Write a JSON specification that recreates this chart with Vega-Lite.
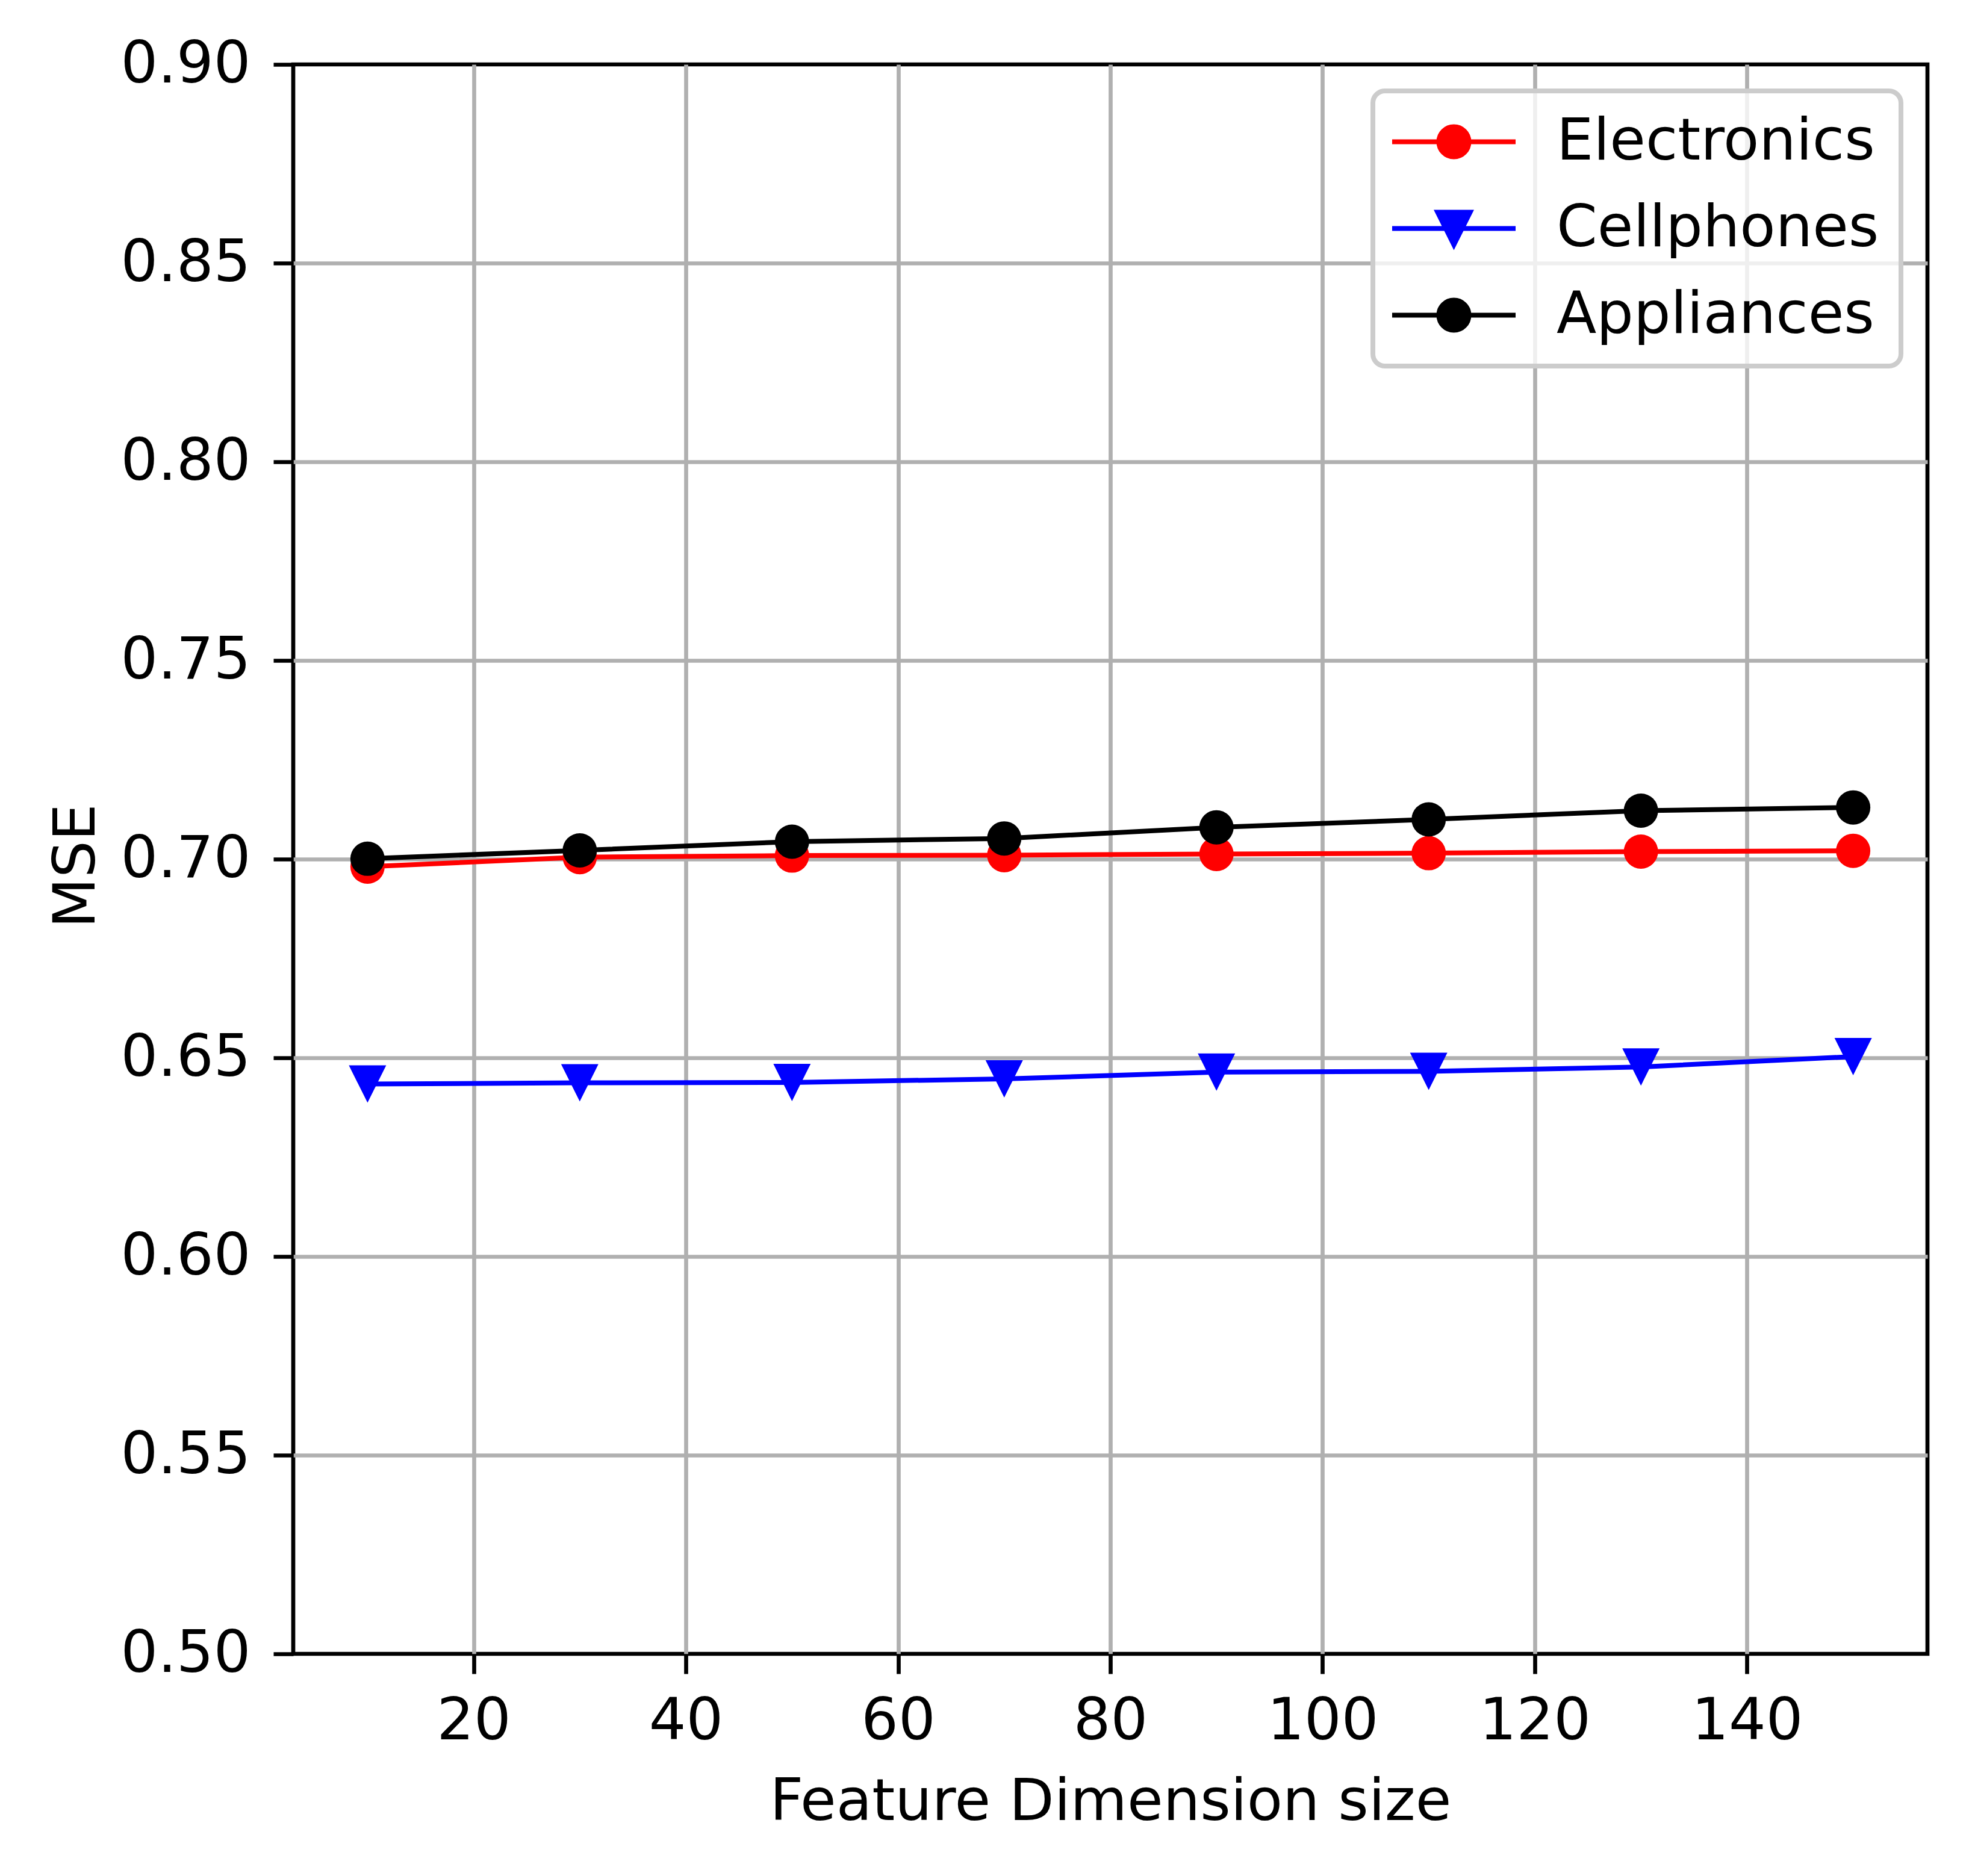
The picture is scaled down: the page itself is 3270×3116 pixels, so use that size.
{
  "$schema": "https://vega.github.io/schema/vega-lite/v6.json",
  "description": "MSE vs feature dimension size",
  "width": 2714,
  "height": 2640,
  "autosize": {"type": "none"},
  "padding": {"left": 487, "top": 107, "right": 69, "bottom": 369},
  "background": "white",
  "config": {
    "font": "DejaVu Sans",
    "view": {"stroke": "black", "strokeWidth": 6.7},
    "axis": {
      "domain": false,
      "grid": true,
      "gridColor": "#b0b0b0",
      "gridWidth": 6.7,
      "tickColor": "black",
      "tickWidth": 6.7,
      "tickSize": 33,
      "labelFont": "DejaVu Sans",
      "labelFontSize": 97,
      "labelColor": "black",
      "labelLimit": 1000,
      "titleFont": "DejaVu Sans",
      "titleFontSize": 97,
      "titleFontWeight": "normal",
      "titleColor": "black",
      "titleLimit": 3000
    }
  },
  "data": {
    "values": [
      {"dim": 10, "mse": 0.6981, "series": "Electronics"},
      {"dim": 30, "mse": 0.7005, "series": "Electronics"},
      {"dim": 50, "mse": 0.7009, "series": "Electronics"},
      {"dim": 70, "mse": 0.7010, "series": "Electronics"},
      {"dim": 90, "mse": 0.7013, "series": "Electronics"},
      {"dim": 110, "mse": 0.7015, "series": "Electronics"},
      {"dim": 130, "mse": 0.7019, "series": "Electronics"},
      {"dim": 150, "mse": 0.7021, "series": "Electronics"},
      {"dim": 10, "mse": 0.6434, "series": "Cellphones"},
      {"dim": 30, "mse": 0.6437, "series": "Cellphones"},
      {"dim": 50, "mse": 0.6438, "series": "Cellphones"},
      {"dim": 70, "mse": 0.6447, "series": "Cellphones"},
      {"dim": 90, "mse": 0.6464, "series": "Cellphones"},
      {"dim": 110, "mse": 0.6466, "series": "Cellphones"},
      {"dim": 130, "mse": 0.6477, "series": "Cellphones"},
      {"dim": 150, "mse": 0.6503, "series": "Cellphones"},
      {"dim": 10, "mse": 0.7001, "series": "Appliances"},
      {"dim": 30, "mse": 0.7022, "series": "Appliances"},
      {"dim": 50, "mse": 0.7044, "series": "Appliances"},
      {"dim": 70, "mse": 0.7052, "series": "Appliances"},
      {"dim": 90, "mse": 0.7080, "series": "Appliances"},
      {"dim": 110, "mse": 0.7100, "series": "Appliances"},
      {"dim": 130, "mse": 0.7122, "series": "Appliances"},
      {"dim": 150, "mse": 0.7130, "series": "Appliances"}
    ]
  },
  "encoding": {
    "x": {
      "field": "dim",
      "type": "quantitative",
      "title": "Feature Dimension size",
      "scale": {"domain": [3, 157], "nice": false, "zero": false},
      "axis": {
        "values": [20, 40, 60, 80, 100, 120, 140],
        "labelPadding": 31,
        "titlePadding": 38,
        "labelFlush": false
      }
    },
    "y": {
      "field": "mse",
      "type": "quantitative",
      "title": "MSE",
      "scale": {"domain": [0.5, 0.9], "nice": false, "zero": false},
      "axis": {
        "values": [0.5, 0.55, 0.6, 0.65, 0.7, 0.75, 0.8, 0.85, 0.9],
        "format": ".2f",
        "labelPadding": 38,
        "titleX": -331,
        "titleY": 1331,
        "titleBaseline": "alphabetic",
        "titleAngle": 270,
        "gridOpacity": {"condition": {"test": "datum.value <= 0.5 || datum.value >= 0.9", "value": 0}, "value": 1}
      }
    },
    "color": {
      "field": "series",
      "type": "nominal",
      "scale": {
        "domain": ["Electronics", "Cellphones", "Appliances"],
        "range": ["#ff0000", "#0000ff", "#000000"]
      },
      "legend": {
        "title": null,
        "orient": "top-right",
        "offset": 44,
        "padding": 36,
        "fillColor": "rgba(255,255,255,0.8)",
        "strokeColor": "#cccccc",
        "cornerRadius": 20,
        "labelFont": "DejaVu Sans",
        "labelFontSize": 97,
        "labelColor": "black",
        "labelLimit": 2000,
        "labelOffset": 122,
        "symbolOffset": 50,
        "symbolSize": 3600,
        "symbolStrokeWidth": 8,
        "symbolOpacity": 1,
        "rowPadding": 46,
        "encode": {
          "legend": {
            "update": {
              "strokeWidth": {"value": 8}
            }
          },
          "symbols": {
            "update": {
              "shape": {"signal": "datum.value === 'Cellphones' ? 'M-3.417,0L3.417,0M-0.9,-0.9L0.9,-0.9L0,0.9Z' : 'M-3.417,0L3.417,0M-0.833,0A0.833,0.833 0 1,0 0.833,0A0.833,0.833 0 1,0 -0.833,0Z'"},
              "fill": {"signal": "scale('color', datum.value)"},
              "stroke": {"signal": "scale('color', datum.value)"}
            }
          }
        }
      }
    }
  },
  "layer": [
    {
      "transform": [{"filter": "datum.series === 'Electronics'"}],
      "mark": {"type": "line", "strokeWidth": 8}
    },
    {
      "transform": [{"filter": "datum.series === 'Electronics'"}],
      "mark": {"type": "point", "shape": "circle", "filled": true, "size": 3249, "opacity": 1}
    },
    {
      "transform": [{"filter": "datum.series === 'Cellphones'"}],
      "mark": {"type": "line", "strokeWidth": 8}
    },
    {
      "transform": [{"filter": "datum.series === 'Cellphones'"}],
      "mark": {"type": "point", "shape": "M-1,-1L1,-1L0,1Z", "filled": true, "size": 3844, "opacity": 1}
    },
    {
      "transform": [{"filter": "datum.series === 'Appliances'"}],
      "mark": {"type": "line", "strokeWidth": 8}
    },
    {
      "transform": [{"filter": "datum.series === 'Appliances'"}],
      "mark": {"type": "point", "shape": "circle", "filled": true, "size": 3249, "opacity": 1}
    }
  ]
}
